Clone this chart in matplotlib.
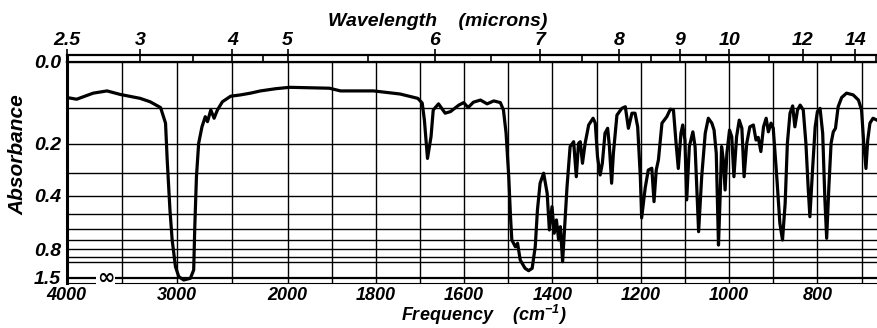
import numpy as np
import matplotlib.pyplot as plt

# spectrum (cm-1, absorbance)
wavenumber = [4000, 3910, 3760, 3635, 3515, 3335, 3245, 3150, 3105, 3090,
              3065, 3045, 3015, 2985, 2940, 2880, 2850, 2840, 2825, 2805,
              2775, 2745, 2725, 2695, 2665, 2635, 2590, 2515, 2425, 2335,
              2245, 2105, 1995, 1905, 1880, 1805, 1745, 1705, 1695, 1690,
              1683, 1675, 1670, 1658, 1643, 1631, 1612, 1601, 1591, 1579,
              1563, 1548, 1533, 1518, 1511, 1505, 1499, 1495, 1492, 1484,
              1479, 1473, 1462, 1454, 1446, 1439, 1434, 1428, 1420, 1412,
              1407, 1401, 1396, 1391, 1386, 1382, 1377, 1371, 1367, 1360,
              1352, 1346, 1341, 1337, 1332, 1326, 1318, 1308, 1303, 1298,
              1292, 1287, 1281, 1275, 1271, 1266, 1262, 1254, 1243, 1235,
              1228, 1220, 1213, 1207, 1201, 1198, 1190, 1183, 1175, 1170,
              1165, 1160, 1152, 1147, 1141, 1133, 1126, 1120, 1115, 1109,
              1105, 1100, 1096, 1090, 1082, 1077, 1069, 1062, 1054, 1047,
              1039, 1034, 1029, 1024, 1020, 1017, 1013, 1009, 1005, 999,
              994, 989, 983, 977, 971, 966, 960, 953, 945, 939,
              934, 928, 922, 916, 911, 905, 900, 892, 885, 879,
              873, 868, 862, 856, 851, 845, 839, 832, 826, 821,
              817, 811, 805, 800, 794, 788, 783, 779, 774, 769,
              764, 759, 753, 745, 734, 719, 707, 700, 695, 690,
              686, 681, 674, 665]
absorbance = [0.076, 0.080, 0.066, 0.061, 0.069, 0.078, 0.086, 0.100, 0.140, 0.252,
              0.475, 0.698, 1.093, 1.445, 1.676, 1.542, 1.181, 0.585, 0.315, 0.198,
              0.150, 0.123, 0.136, 0.106, 0.127, 0.106, 0.086, 0.073, 0.070, 0.066,
              0.061, 0.056, 0.053, 0.055, 0.061, 0.061, 0.068, 0.078, 0.089, 0.132,
              0.247, 0.178, 0.106, 0.091, 0.114, 0.110, 0.094, 0.088, 0.100, 0.087,
              0.082, 0.091, 0.084, 0.088, 0.106, 0.168, 0.315, 0.516, 0.698, 0.769,
              0.731, 0.956, 1.134, 1.202, 1.134, 0.769, 0.475, 0.342, 0.301, 0.387,
              0.610, 0.456, 0.637, 0.537, 0.698, 0.585, 0.987, 0.516, 0.357, 0.208,
              0.193, 0.315, 0.198, 0.193, 0.264, 0.198, 0.145, 0.127, 0.140, 0.241,
              0.308, 0.264, 0.168, 0.154, 0.208, 0.342, 0.230, 0.119, 0.102, 0.098,
              0.154, 0.114, 0.114, 0.150, 0.315, 0.524, 0.363, 0.289, 0.282, 0.429,
              0.289, 0.252, 0.140, 0.132, 0.123, 0.104, 0.106, 0.198, 0.283, 0.168,
              0.145, 0.188, 0.420, 0.208, 0.164, 0.208, 0.624, 0.315, 0.168, 0.127,
              0.140, 0.159, 0.230, 0.750, 0.387, 0.208, 0.252, 0.372, 0.230, 0.159,
              0.178, 0.315, 0.178, 0.132, 0.154, 0.315, 0.198, 0.150, 0.145, 0.188,
              0.180, 0.224, 0.150, 0.127, 0.164, 0.140, 0.154, 0.315, 0.560, 0.698,
              0.438, 0.198, 0.114, 0.096, 0.150, 0.106, 0.094, 0.106, 0.198, 0.357,
              0.516, 0.289, 0.150, 0.110, 0.102, 0.168, 0.420, 0.682, 0.357, 0.198,
              0.164, 0.154, 0.098, 0.076, 0.066, 0.070, 0.082, 0.106, 0.198, 0.283,
              0.188, 0.140, 0.127, 0.132]

freq_ticks = [4000, 3000, 2000, 1800, 1600, 1400, 1200, 1000, 800]
freq_grid = [3500, 3000, 2500, 2000, 1900, 1800, 1700, 1600, 1500, 1400,
             1300, 1200, 1100, 1000, 900, 800, 700]
micron_ticks = [2.5, 3, 4, 5, 6, 7, 8, 9, 10, 12, 14]
micron_minor = [3.5, 4.5, 5.5, 6.5, 7.5, 8.5, 9.5, 11, 13, 15]
abs_ticks = [0.0, 0.2, 0.4, 0.8, 1.5]
abs_grid = [0.1, 0.2, 0.3, 0.4, 0.5, 0.6, 0.7, 0.8, 0.9, 1.0]

plt.rcParams['font.family'] = ['Liberation Sans', 'DejaVu Sans']
plt.rcParams['font.style'] = 'italic'
plt.rcParams['font.weight'] = 'bold'
plt.rcParams['mathtext.fontset'] = 'custom'
plt.rcParams['mathtext.rm'] = 'Liberation Sans:italic:bold'


# chart paper: 4000-2000 compressed 4x relative to 2000-650
def fwd(x):
    x = np.asarray(x, float)
    return np.where(x >= 2000, x / 4 + 1500, x)


def inv(u):
    u = np.asarray(u, float)
    return np.where(u >= 2000, (u - 1500) * 4, u)


# absorbance axis linear in transmittance
def yfwd(a):
    return 1 - 10 ** (-np.asarray(a, float))


def yinv(f):
    f = np.clip(np.asarray(f, float), None, 1 - 1e-12)
    return -np.log10(1 - f)


fig = plt.figure(figsize=(8.77, 3.28), dpi=100)
L, B, W, H = 0.0761, 0.1363, 0.9239, 0.6756
ax = fig.add_axes([L, B, W, H])
ax.set_xscale('function', functions=(fwd, inv))
ax.set_yscale('function', functions=(yfwd, yinv))
ax.set_xlim(4000, 665)
ax.set_ylim(2.2, 0)

for v in freq_grid:
    ax.axvline(v, color='k', lw=1.0, zorder=1)
for a in abs_grid:
    ax.axhline(a, color='k', lw=1.0, zorder=1)
ax.axhline(1.5, color='k', lw=1.6, zorder=1)

ax.plot(wavenumber, absorbance, color='k', lw=2.3, solid_joinstyle='round', zorder=3)

ax.set_xticks(freq_ticks)
ax.set_xticklabels([str(t) for t in freq_ticks])
ax.set_xticks([], minor=True)
ax.set_yticks(abs_ticks)
ax.set_yticklabels(['%.1f' % t for t in abs_ticks])
ax.set_yticks([], minor=True)
ax.tick_params(axis='x', length=0, pad=3, labelsize=13)
ax.tick_params(axis='y', length=0, pad=4, labelsize=14)
ax.spines['right'].set_visible(False)
ax.spines['left'].set_linewidth(2.2)
ax.spines['top'].set_linewidth(1.6)
ax.spines['bottom'].set_linewidth(0.8)

ax.text(3650, 1.5, '\u221e', ha='center', va='center', fontsize=15,
        fontstyle='normal', family='DejaVu Sans', zorder=4,
        bbox=dict(facecolor='white', edgecolor='none', pad=0.5))

# wavelength ruler strip on top
rul = fig.add_axes([L, B + H, W, 0.0204])
rul.set_xscale('function', functions=(fwd, inv))
rul.set_xlim(4000, 665)
rul.set_yticks([])
rul.set_xticks([1e4 / m for m in micron_ticks])
rul.set_xticklabels(['%g' % m for m in micron_ticks])
rul.set_xticks([1e4 / m for m in micron_minor], minor=True)
rul.xaxis.tick_top()
rul.tick_params(axis='x', which='major', direction='inout', length=9, width=1.2,
                pad=0, labelsize=14)
rul.tick_params(axis='x', which='minor', direction='in', length=5, width=1.2)
rul.spines['right'].set_visible(False)
rul.spines['left'].set_linewidth(2.2)
rul.spines['top'].set_linewidth(1.6)
rul.spines['bottom'].set_linewidth(1.6)

fig.text(0.4994, 0.935, 'Wavelength    (microns)', ha='center', va='center', fontsize=14)
fig.text(0.552, 0.003, 'Frequency    (cm$^{\\mathrm{-1}}$)', ha='center', va='bottom', fontsize=13)
fig.text(0.0205, 0.53, 'Absorbance', ha='center', va='center', rotation=90, fontsize=15)

fig.savefig('out.png', dpi=100)
